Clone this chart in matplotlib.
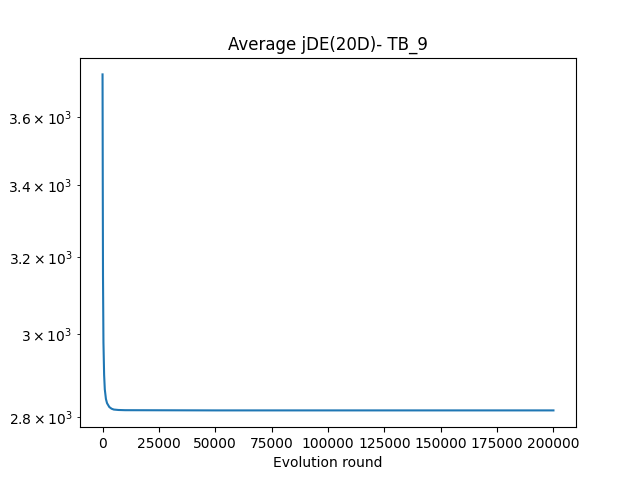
import matplotlib
matplotlib.use("Agg")
import matplotlib.pyplot as plt

rounds = [0, 100, 200, 400, 700, 1000, 1500, 2000, 3000, 4000, 5000, 7000, 10000, 50000, 100000, 150000, 200000]
fitness = [3730, 3400, 3150, 2980, 2900, 2865, 2842, 2832, 2823, 2819, 2817, 2816, 2815.5, 2815, 2815, 2815, 2815]

fig, ax = plt.subplots(figsize=(6.4, 4.8), dpi=100)
ax.plot(rounds, fitness)
ax.set_yscale("log")
ax.set_title("Average jDE(20D)- TB_9")
ax.set_xlabel("Evolution round")
ax.set_ylabel("Fitness")
fig.savefig("out.png")
